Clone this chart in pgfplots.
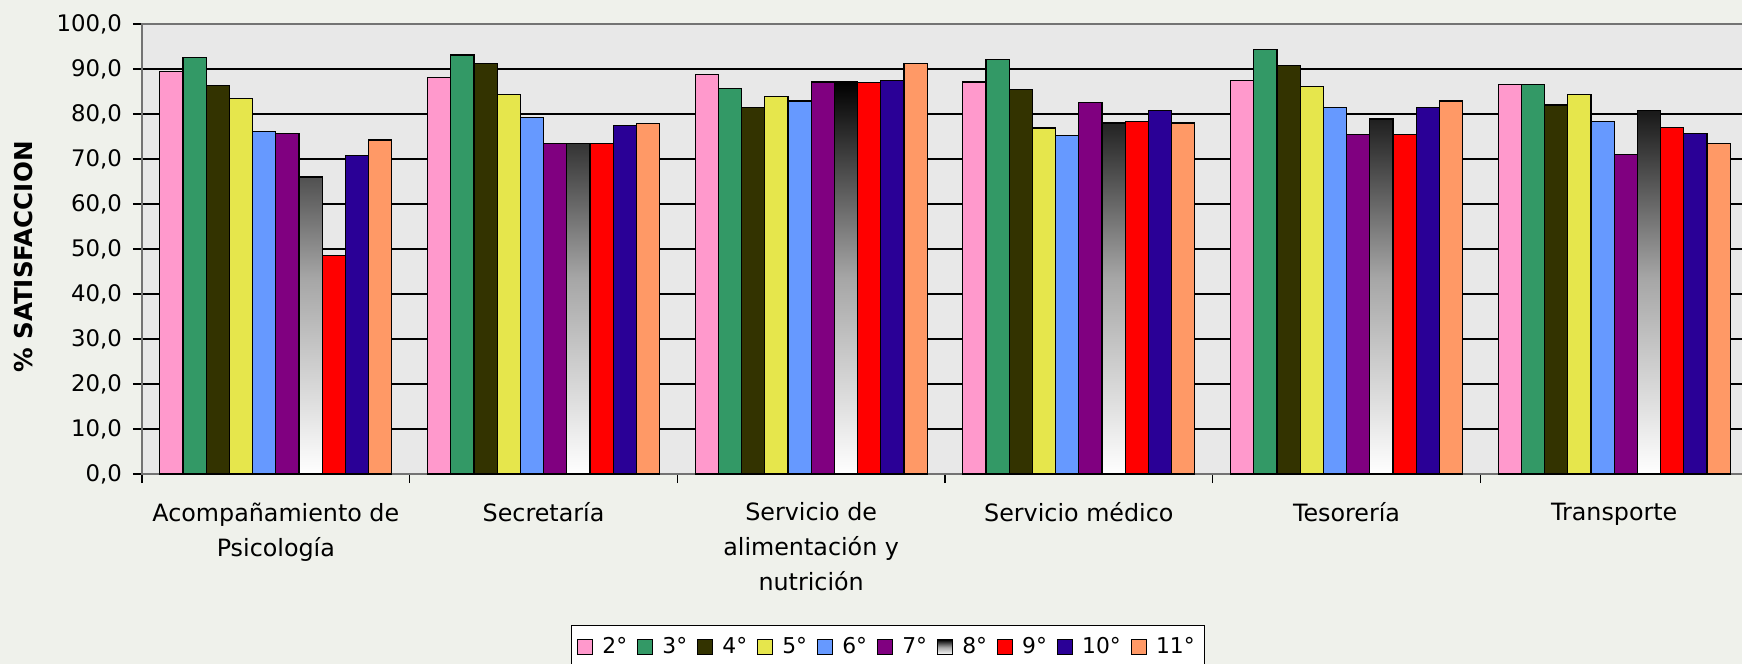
\documentclass[border=0pt]{standalone}
\usepackage{pgfplots}
\pgfplotsset{compat=1.18}
\usepackage{fontspec}
\setmainfont{DejaVu Sans}
\definecolor{bgcol}{HTML}{EFF1EB}
\definecolor{plotbg}{HTML}{E8E8E8}
\definecolor{c2}{HTML}{FF99CC}
\definecolor{c3}{HTML}{339966}
\definecolor{c4}{HTML}{333300}
\definecolor{c5}{HTML}{E6E64C}
\definecolor{c6}{HTML}{6699FF}
\definecolor{c7}{HTML}{800080}
\definecolor{c9}{HTML}{FF0000}
\definecolor{c10}{HTML}{2A0096}
\definecolor{c11}{HTML}{FF9966}
\pgfplotsset{mylegend/.style={legend image code/.code={\draw[##1,draw=black,line width=0.6pt] (0pt,-3.75pt) rectangle (7.5pt,3.75pt); \path (10pt,0pt);}}}
\begin{document}
\begin{tikzpicture}
\fill[bgcol] (-71pt,-95pt) rectangle (800pt,237pt);
\begin{axis}[
  at={(0pt,0pt)}, anchor=south west,
  scale only axis, width=803pt, height=225pt,
  xmin=-0.5, xmax=5.5, ymin=0, ymax=100,
  ybar=0pt, bar width=11.6pt,
  axis background/.style={fill=plotbg},
  axis line style={black!55, line width=0.7pt},
  tick pos=left,
  xtick={0,...,5},
  xticklabels={{Acompañamiento de\\Psicología},Secretaría,{Servicio de\\alimentación y\\nutrición},Servicio médico,Tesorería,Transporte},
  minor xtick={-0.5,0.5,...,5.5},
  major x tick style={draw=none},
  minor x tick style={draw=black, line width=0.6pt},
  tick align=outside, major tick length=4.5pt, minor tick length=4.5pt,
  ytick={0,10,...,100},
  yticklabels={{0,0},{10,0},{20,0},{30,0},{40,0},{50,0},{60,0},{70,0},{80,0},{90,0},{100,0}},
  y tick style={draw=black, line width=0.6pt},
  ymajorgrids, major grid style={black, line width=0.9pt},
  yticklabel style={font=\fontsize{11.4}{13}\selectfont, anchor=east, xshift=-2pt},
  xticklabel style={font=\fontsize{11.9}{17.5}\selectfont, align=center, anchor=north, inner sep=0pt, yshift=-9.7pt},
  ylabel={\% SATISFACCION},
  ylabel style={font=\fontsize{12.3}{14}\selectfont\bfseries, at={(axis description cs:-0.0735,0.482)}, anchor=center},
  legend columns=10,
  legend style={at={(axis description cs:0.4645,-0.385)}, anchor=center, draw=black, fill=white, line width=0.6pt, inner ysep=4pt,
    font=\fontsize{10.9}{12}\selectfont, /tikz/every even column/.append style={column sep=3pt}},
  every axis plot/.append style={draw=black, line width=0.6pt},
]
\addplot[fill=c2, mylegend] coordinates {(0,89.4) (1,88.1) (2,88.8) (3,87.1) (4,87.5) (5,86.5)};
\addplot[fill=c3, mylegend] coordinates {(0,92.6) (1,93.1) (2,85.7) (3,92.1) (4,94.4) (5,86.5)};
\addplot[fill=c4, mylegend] coordinates {(0,86.3) (1,91.3) (2,81.5) (3,85.4) (4,90.7) (5,82.0)};
\addplot[fill=c5, mylegend] coordinates {(0,83.4) (1,84.3) (2,83.8) (3,76.9) (4,86.1) (5,84.3)};
\addplot[fill=c6, mylegend] coordinates {(0,76.1) (1,79.3) (2,82.9) (3,75.2) (4,81.5) (5,78.3)};
\addplot[fill=c7, mylegend] coordinates {(0,75.6) (1,73.4) (2,87.1) (3,82.5) (4,75.5) (5,71.0)};
\addplot[top color=black, bottom color=white, middle color=black!35, mylegend] coordinates {(0,66.0) (1,73.4) (2,87.2) (3,78.0) (4,78.9) (5,80.7)};
\addplot[fill=c9, mylegend] coordinates {(0,48.6) (1,73.4) (2,87.0) (3,78.3) (4,75.5) (5,77.0)};
\addplot[fill=c10, mylegend] coordinates {(0,70.7) (1,77.4) (2,87.5) (3,80.8) (4,81.5) (5,75.6)};
\addplot[fill=c11, mylegend] coordinates {(0,74.2) (1,77.9) (2,91.2) (3,78.0) (4,82.9) (5,73.4)};
\legend{2°,3°,4°,5°,6°,7°,8°,9°,10°,11°}
\end{axis}
\pgfresetboundingbox
\useasboundingbox (-71pt,-95pt) rectangle (800pt,237pt);
\end{tikzpicture}
\end{document}
